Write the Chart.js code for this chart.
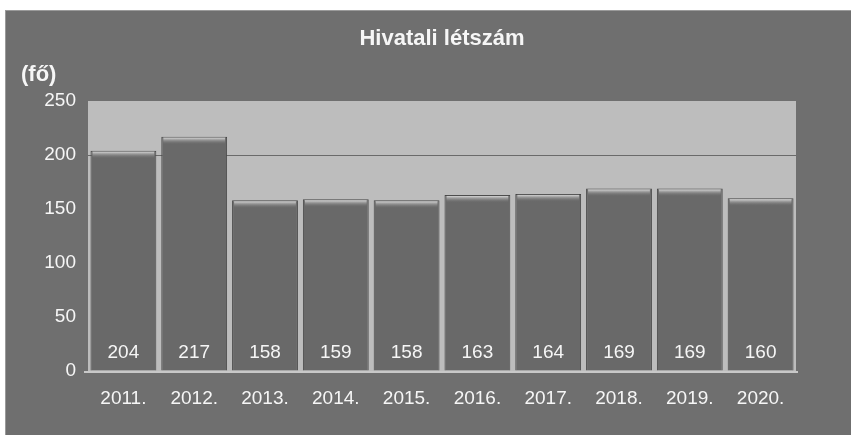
<!DOCTYPE html>
<html>
<head>
<meta charset="utf-8">
<script src="https://cdn.jsdelivr.net/npm/chart.js@4/dist/chart.umd.min.js"></script>
<style>
  html, body { margin: 0; padding: 0; background: #ffffff; }
  #wrap {
    position: absolute; left: 5px; top: 10px;
    width: 846px; height: 425px;
    background: #6f6f6f;
    border-top: 1px solid #9a9a9a;
    border-left: 1px solid #9a9a9a;
    box-sizing: border-box;
  }
</style>
</head>
<body>
<div id="wrap"><canvas id="c" width="845" height="424"></canvas></div>
<script>
(function() {
  'use strict';

  var years  = ['2011.', '2012.', '2013.', '2014.', '2015.', '2016.', '2017.', '2018.', '2019.', '2020.'];
  var staff  = [204, 217, 158, 159, 158, 163, 164, 169, 169, 160];
  var yTicks = [0, 50, 100, 150, 200, 250];

  var TEXT  = '#f6f6f6';
  var FONT  = "'Liberation Sans', Arial, sans-serif";

  // light plot area + title + unit label + values at the foot of each bar
  var decor = {
    id: 'decor',
    beforeDraw: function(chart) {
      var a = chart.chartArea, ctx = chart.ctx;
      ctx.save();
      ctx.fillStyle = '#bdbdbd';
      ctx.fillRect(a.left, a.top, a.right - a.left, a.bottom - a.top);
      ctx.restore();
    },
    afterDatasetsDraw: function(chart) {
      var a = chart.chartArea, ctx = chart.ctx;
      var meta = chart.getDatasetMeta(0);
      ctx.save();

      // bevel on top of each bar
      meta.data.forEach(function(bar) {
        var l = bar.x - bar.width / 2 + 2, w = bar.width - 4;
        var g = ctx.createLinearGradient(0, bar.y + 1, 0, bar.y + 8);
        g.addColorStop(0, '#d6d6d6');
        g.addColorStop(1, 'rgba(105,105,105,0)');
        ctx.fillStyle = g;
        ctx.fillRect(l, bar.y + 1, w, 7);
      });

      ctx.fillStyle = TEXT;
      ctx.textBaseline = 'middle';
      ctx.textAlign = 'center';
      ctx.font = 'bold 22px ' + FONT;
      ctx.fillText('Hivatali létszám', (a.left + a.right) / 2, 28);
      ctx.textAlign = 'left';
      ctx.fillText('(fő)', 15, 64);

      ctx.font = '19px ' + FONT;
      ctx.textAlign = 'center';
      meta.data.forEach(function(bar, i) {
        ctx.fillText(String(staff[i]), bar.x, a.bottom - 18);
      });
      // floor line
      ctx.strokeStyle = '#c8c8c8';
      ctx.lineWidth = 2;
      ctx.beginPath();
      ctx.moveTo(a.left - 4, a.bottom + 1);
      ctx.lineTo(a.right + 2, a.bottom + 1);
      ctx.stroke();
      ctx.restore();
    }
  };

  new Chart(document.getElementById('c'), {
    type: 'bar',
    data: {
      labels: years,
      datasets: [{
        data: staff,
        backgroundColor: '#696969',
        borderColor: '#474747',
        borderWidth: 1,
        borderSkipped: 'bottom',
        categoryPercentage: 1,
        barPercentage: 0.93
      }]
    },
    options: {
      responsive: false,
      animation: false,
      layout: { padding: { top: 90, right: 55, bottom: 0, left: 0 } },
      plugins: {
        legend: { display: false },
        tooltip: { enabled: false }
      },
      scales: {
        x: {
          grid: { display: false },
          border: { display: false },
          ticks: { color: TEXT, font: { family: FONT, size: 19 }, padding: 8 },
          afterFit: function(s) { s.height = 64; }
        },
        y: {
          min: 0,
          max: 250,
          afterBuildTicks: function(s) {
            s.ticks = yTicks.map(function(v) { return { value: v }; });
          },
          grid: {
            color: function(c) { return c.tick && c.tick.value === 200 ? '#6a6a6a' : 'rgba(0,0,0,0)'; },
            lineWidth: 1,
            drawTicks: false
          },
          border: { display: false },
          ticks: { color: TEXT, font: { family: FONT, size: 19 }, padding: 12 },
          afterFit: function(s) { s.width = 82; }
        }
      }
    },
    plugins: [decor]
  });
})();
</script>
</body>
</html>
